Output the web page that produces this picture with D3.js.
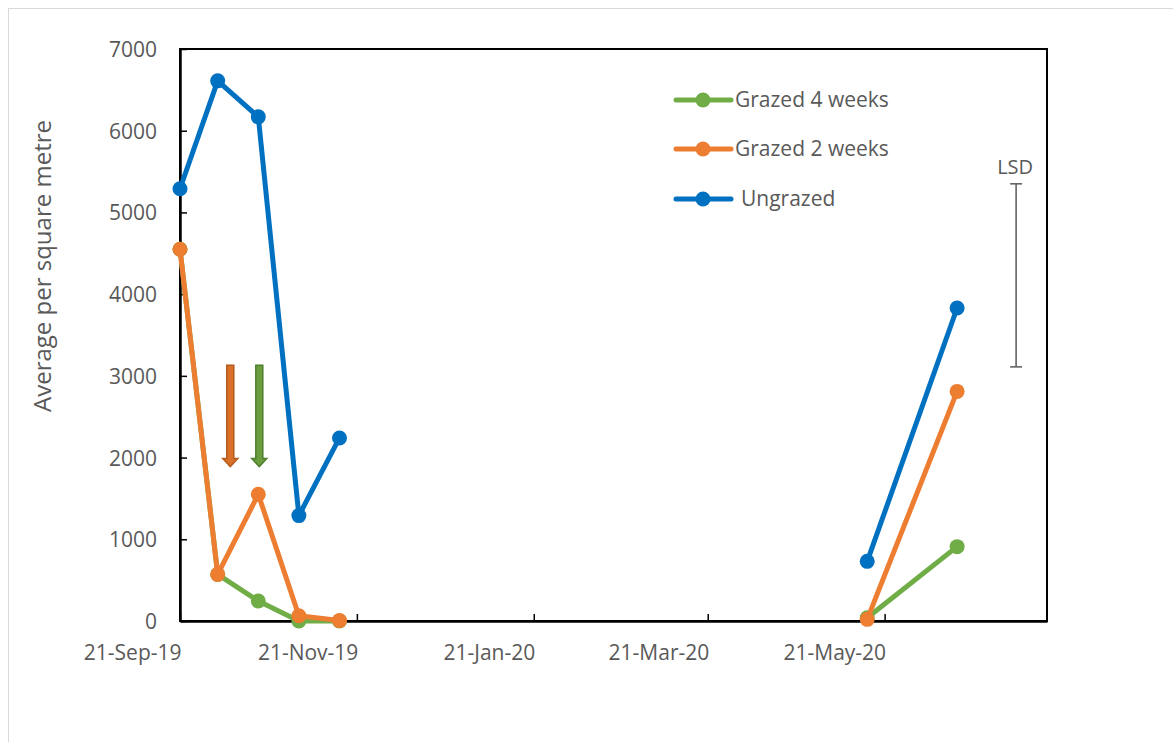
<!DOCTYPE html>
<html>
<head>
<meta charset="utf-8">
<script src="https://cdn.jsdelivr.net/npm/d3@7"></script>
<style>
  html, body { margin: 0; padding: 0; background: #fff; }
  svg { display: block; }
  text { font-family: "Open Sans", sans-serif; fill: #595959; }
</style>
</head>
<body>
<svg id="chart" width="1173" height="742"></svg>
<script>
// ---- data ----
const dates = ["2019-09-21", "2019-10-04", "2019-10-18", "2019-11-01", "2019-11-15", "2020-05-15", "2020-06-15"];
const season = [0, 0, 0, 0, 0, 1, 1];
const grazed4 = [4550, 570, 245, 0, 0, 40, 910];
const grazed2 = [4550, 570, 1550, 65, 5, 20, 2810];
const ungrazed = [5290, 6610, 6170, 1290, 2240, 730, 3830];
const seriesNames = ["Grazed 4 weeks", "Grazed 2 weeks", "Ungrazed"];
const seriesColors = ["#70AD47", "#ED7D31", "#0070C0"];
const yTicks = [0, 1000, 2000, 3000, 4000, 5000, 6000, 7000];
const xTickDates = ["2019-09-21", "2019-11-21", "2020-01-21", "2020-03-21", "2020-05-21"];
const xDomain = ["2019-09-21", "2020-07-16"];
// grazing-event arrows (date, top value, bottom value)
const arrowDates = ["2019-10-08", "2019-10-18"];
const arrowTop = 3130;
const arrowBottom = 1890;
const arrowFill = ["#D9712B", "#6A9E3F"];
const arrowStroke = ["#B55A1C", "#4F7F2E"];
// LSD bar
const lsdDate = "2020-07-05";
const lsdTop = 5350;
const lsdBottom = 3110;

// ---- layout ----
const svg = d3.select("#chart");
const pLeft = 180, pRight = 1047, pTop = 49, pBottom = 621;
const parse = d3.utcParse("%Y-%m-%d");
const x = d3.scaleUtc().domain(xDomain.map(parse)).range([pLeft, pRight]);
const y = d3.scaleLinear().domain([0, 7000]).range([pBottom, pTop]);

// outer chart border
svg.append("rect").attr("x", 8.5).attr("y", 8.5).attr("width", 1300).attr("height", 900)
  .attr("fill", "none").attr("stroke", "#d9d9d9").attr("stroke-width", 1);

// plot border
svg.append("rect").attr("x", pLeft).attr("y", pTop).attr("width", pRight - pLeft).attr("height", pBottom - pTop)
  .attr("fill", "none").attr("stroke", "#000").attr("stroke-width", 2);

// y axis
const yAxis = svg.append("g").attr("transform", `translate(${pLeft},0)`)
  .call(d3.axisLeft(y).tickValues(yTicks).tickSizeInner(-7).tickSizeOuter(0).tickPadding(23).tickFormat(d3.format("d")));
yAxis.select(".domain").attr("stroke", "#000").attr("stroke-width", 2.5);
yAxis.selectAll(".tick line").attr("stroke", "#000").attr("stroke-width", 1.5);
yAxis.selectAll(".tick text").style("font-size", "21px").attr("fill", "#595959").attr("dy", "0.36em");

// x axis
const xAxis = svg.append("g").attr("transform", `translate(0,${pBottom})`)
  .call(d3.axisBottom(x).tickValues(xTickDates.map(parse)).tickSizeInner(-7).tickSizeOuter(0).tickFormat(d3.utcFormat("%d-%b-%y")));
xAxis.select(".domain").attr("stroke", "#000").attr("stroke-width", 2.5);
xAxis.selectAll(".tick line").attr("stroke", "#000").attr("stroke-width", 1.5);
xAxis.selectAll(".tick text").style("font-size", "21px").attr("fill", "#595959")
  .attr("text-anchor", "end").attr("y", 39).attr("dy", 0).attr("dx", 1);

// y label
svg.append("text").attr("transform", `translate(51,266) rotate(-90)`)
  .attr("text-anchor", "middle").style("font-size", "24px").text("Average per square metre");

// series
const allSeries = [grazed4, grazed2, ungrazed];
const line = d3.line().x(d => x(d.date)).y(d => y(d.value));
allSeries.forEach((vals, si) => {
  const pts = vals.map((v, i) => ({ date: parse(dates[i]), value: v, s: season[i] }));
  const g = svg.append("g");
  d3.groups(pts, d => d.s).forEach(([, seg]) => {
    g.append("path").attr("d", line(seg)).attr("fill", "none")
      .attr("stroke", seriesColors[si]).attr("stroke-width", 5).attr("stroke-linejoin", "round");
  });
  g.selectAll("circle").data(pts).join("circle")
    .attr("cx", d => x(d.date)).attr("cy", d => y(d.value)).attr("r", 7.5)
    .attr("fill", seriesColors[si]);
});

// arrows
arrowDates.forEach((d, i) => {
  const cx = x(parse(d)) + 1;
  const y0 = y(arrowTop), y1 = y(arrowBottom);
  const sw = 3.5, hw = 7.5, hh = 8;
  const p = [[cx - sw, y0], [cx + sw, y0], [cx + sw, y1 - hh], [cx + hw, y1 - hh], [cx, y1],
             [cx - hw, y1 - hh], [cx - sw, y1 - hh]];
  svg.append("path").attr("d", "M" + p.map(q => q.join(",")).join("L") + "Z")
    .attr("fill", arrowFill[i]).attr("stroke", arrowStroke[i]).attr("stroke-width", 1.5);
});

// LSD bar
const lx = x(parse(lsdDate)) + 1;
svg.append("line").attr("x1", lx).attr("x2", lx).attr("y1", y(lsdTop)).attr("y2", y(lsdBottom))
  .attr("stroke", "#595959").attr("stroke-width", 1.5);
[lsdTop, lsdBottom].forEach(v => {
  svg.append("line").attr("x1", lx - 6).attr("x2", lx + 6).attr("y1", y(v)).attr("y2", y(v))
    .attr("stroke", "#595959").attr("stroke-width", 1.5);
});
svg.append("text").attr("x", lx - 1).attr("y", y(lsdTop) - 10).attr("text-anchor", "middle")
  .style("font-size", "20px").attr("fill", "#404040").text("LSD");

// legend
const legY = [100, 149, 199];
const legDx = [0, 0, 6];
seriesNames.forEach((name, i) => {
  const g = svg.append("g").attr("transform", `translate(676,${legY[i]})`);
  g.append("line").attr("x1", 0).attr("x2", 55).attr("y1", 0).attr("y2", 0)
    .attr("stroke", seriesColors[i]).attr("stroke-width", 5).attr("stroke-linecap", "round");
  g.append("circle").attr("cx", 27).attr("cy", 0).attr("r", 7.5).attr("fill", seriesColors[i]);
  g.append("text").attr("x", 59 + legDx[i]).attr("y", 7).style("font-size", "21px").text(name);
});
</script>
</body>
</html>
